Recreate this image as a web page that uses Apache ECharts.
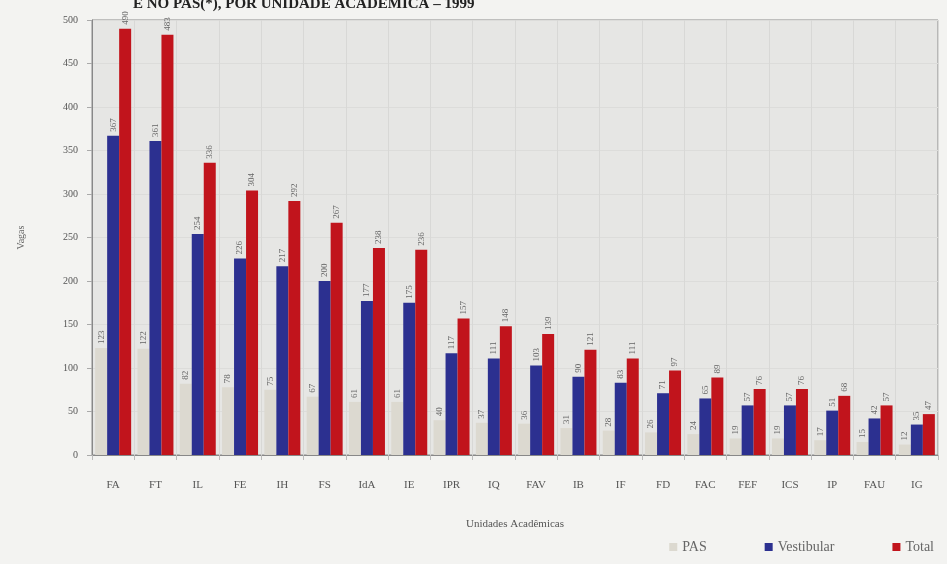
<!DOCTYPE html>
<html><head><meta charset="utf-8">
<script src="https://cdn.jsdelivr.net/npm/echarts@6/dist/echarts.min.js"></script>
<style>html,body{margin:0;padding:0;background:#f3f3f1;}#c{width:947px;height:564px;}</style>
</head><body><div id="c"></div>
<script>
const categories = ['FA','FT','IL','FE','IH','FS','IdA','IE','IPR','IQ','FAV','IB','IF','FD','FAC','FEF','ICS','IP','FAU','IG'];
const pas        = [123,122,82,78,75,67,61,61,40,37,36,31,28,26,24,19,19,17,15,12];
const vestibular = [367,361,254,226,217,200,177,175,117,111,103,90,83,71,65,57,57,51,42,35];
const total      = [490,483,336,304,292,267,238,236,157,148,139,121,111,97,89,76,76,68,57,47];
const yTicks = {min:0, max:500, interval:50};

const serif = '"Liberation Serif","DejaVu Serif",serif';
const lbl = {show:true, position:'top', rotate:90, align:'left', verticalAlign:'middle', distance:4,
  fontFamily:serif, fontSize:9, color:'#666'};
const chart = echarts.init(document.getElementById('c'));
chart.setOption({
  backgroundColor:'#f3f3f1',
  animation:false,
  title:{text:'E NO PAS(*), POR UNIDADE ACADÊMICA – 1999', left:128, top:-8,
    textStyle:{fontFamily:serif, fontSize:15, fontWeight:'bold', color:'#222'}},
  grid:{left:92, right:9, top:20, bottom:109, show:true, backgroundColor:'#e6e6e4', borderColor:'#8a8a8a', borderWidth:1},
  legend:{right:8, bottom:5, itemWidth:8, itemHeight:8, itemGap:58, icon:'rect',
    textStyle:{fontFamily:serif, fontSize:14, color:'#666'}},
  xAxis:{type:'category', data:categories, name:'Unidades Acadêmicas', nameLocation:'middle', nameGap:64,
    nameTextStyle:{fontFamily:serif, fontSize:11, color:'#555'},
    axisLine:{lineStyle:{color:'#888'}}, axisTick:{show:true, alignWithLabel:false, lineStyle:{color:'#bbb'}},
    splitLine:{show:true, lineStyle:{color:'#d8d8d6'}},
    axisLabel:{fontFamily:serif, fontSize:11, color:'#555', margin:25, interval:0}},
  yAxis:{type:'value', min:yTicks.min, max:yTicks.max, interval:yTicks.interval, name:'Vagas', nameLocation:'middle', nameGap:66,
    nameTextStyle:{fontFamily:serif, fontSize:10, color:'#666'},
    axisLine:{show:true, lineStyle:{color:'#888'}}, axisTick:{show:true, lineStyle:{color:'#aaa'}},
    splitLine:{show:true, lineStyle:{color:'#dcdcda'}},
    axisLabel:{fontFamily:serif, fontSize:10, color:'#555', margin:14}},
  series:[
    {name:'PAS', type:'bar', data:pas, itemStyle:{color:'#dcd9d0'}, label:lbl, barWidth:12, barGap:'0%', barCategoryGap:'12%'},
    {name:'Vestibular', type:'bar', data:vestibular, itemStyle:{color:'#2c3090'}, label:lbl, barWidth:12, barGap:'0%'},
    {name:'Total', type:'bar', data:total, itemStyle:{color:'#c1141c'}, label:lbl, barWidth:12, barGap:'0%'}
  ]
});
</script></body></html>
